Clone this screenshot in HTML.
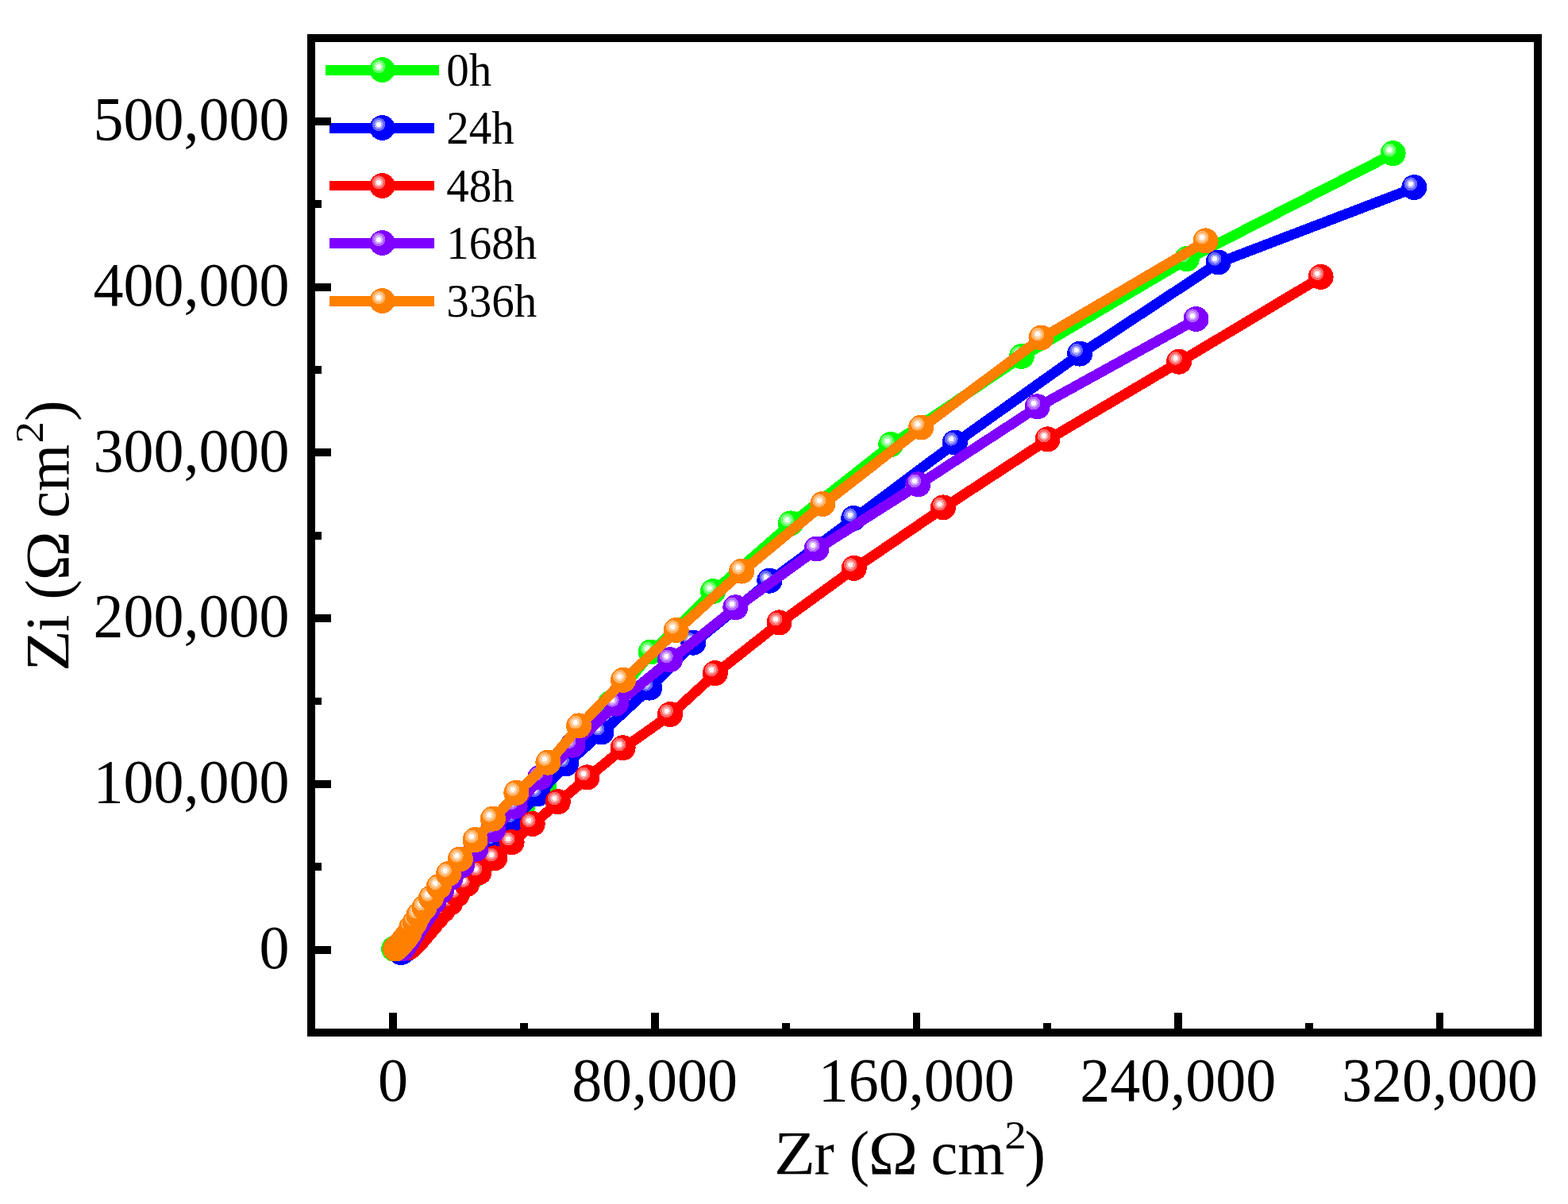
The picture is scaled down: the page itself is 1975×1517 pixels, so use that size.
<!DOCTYPE html>
<html lang="en"><head><meta charset="utf-8"><title>Nyquist plot</title>
<style>
html,body{margin:0;padding:0;background:#fff;}
body{width:1975px;height:1517px;overflow:hidden;}
svg{display:block;}
text{font-family:'Liberation Serif', 'DejaVu Serif', serif;fill:#000;}
</style></head><body>
<svg width="1975" height="1517" viewBox="0 0 1975 1517">
<rect x="0" y="0" width="1975" height="1517" fill="#ffffff"/>
<g shape-rendering="crispEdges">
<g>
<polyline fill="none" stroke="#00ff00" stroke-width="13" stroke-linejoin="round" stroke-linecap="butt" points="496.5,1196.0 498.0,1196.0 500.0,1195.8 503.0,1195.3 506.5,1194.3 510.5,1192.7 515.0,1190.3 519.5,1187.0 524.0,1183.0 528.5,1178.0 533.5,1172.0 539.0,1165.5 545.5,1158.0 552.9,1149.9 561.7,1141.0 570.5,1131.2 581.0,1119.5 594.5,1105.5 607.5,1088.5 622.5,1067.7 639.0,1045.1 658.3,1018.5 685.5,990.2 724.8,936.2 769.3,886.5 820.3,822.0 898.6,745.6 996.4,659.9 1122.7,560.5 1287.4,449.4 1495.3,326.7 1755.1,193.7"/>
<circle cx="496.0" cy="1195.5" r="16" fill="#00ff00"/>
<circle cx="491.5" cy="1191.2" r="8.4" fill="#66ff66"/>
<circle cx="491.5" cy="1191.2" r="5.6" fill="#abffab"/>
<circle cx="491.5" cy="1191.2" r="3.1" fill="#ffffff"/>
<circle cx="497.5" cy="1195.5" r="16" fill="#00ff00"/>
<circle cx="493.0" cy="1191.2" r="8.4" fill="#66ff66"/>
<circle cx="493.0" cy="1191.2" r="5.6" fill="#abffab"/>
<circle cx="493.0" cy="1191.2" r="3.1" fill="#ffffff"/>
<circle cx="499.5" cy="1195.3" r="16" fill="#00ff00"/>
<circle cx="495.0" cy="1191.0" r="8.4" fill="#66ff66"/>
<circle cx="495.0" cy="1191.0" r="5.6" fill="#abffab"/>
<circle cx="495.0" cy="1191.0" r="3.1" fill="#ffffff"/>
<circle cx="502.5" cy="1194.8" r="16" fill="#00ff00"/>
<circle cx="498.0" cy="1190.5" r="8.4" fill="#66ff66"/>
<circle cx="498.0" cy="1190.5" r="5.6" fill="#abffab"/>
<circle cx="498.0" cy="1190.5" r="3.1" fill="#ffffff"/>
<circle cx="506.0" cy="1193.8" r="16" fill="#00ff00"/>
<circle cx="501.5" cy="1189.5" r="8.4" fill="#66ff66"/>
<circle cx="501.5" cy="1189.5" r="5.6" fill="#abffab"/>
<circle cx="501.5" cy="1189.5" r="3.1" fill="#ffffff"/>
<circle cx="510.0" cy="1192.2" r="16" fill="#00ff00"/>
<circle cx="505.5" cy="1187.9" r="8.4" fill="#66ff66"/>
<circle cx="505.5" cy="1187.9" r="5.6" fill="#abffab"/>
<circle cx="505.5" cy="1187.9" r="3.1" fill="#ffffff"/>
<circle cx="514.5" cy="1189.8" r="16" fill="#00ff00"/>
<circle cx="510.0" cy="1185.5" r="8.4" fill="#66ff66"/>
<circle cx="510.0" cy="1185.5" r="5.6" fill="#abffab"/>
<circle cx="510.0" cy="1185.5" r="3.1" fill="#ffffff"/>
<circle cx="519.0" cy="1186.5" r="16" fill="#00ff00"/>
<circle cx="514.5" cy="1182.2" r="8.4" fill="#66ff66"/>
<circle cx="514.5" cy="1182.2" r="5.6" fill="#abffab"/>
<circle cx="514.5" cy="1182.2" r="3.1" fill="#ffffff"/>
<circle cx="523.5" cy="1182.5" r="16" fill="#00ff00"/>
<circle cx="519.0" cy="1178.2" r="8.4" fill="#66ff66"/>
<circle cx="519.0" cy="1178.2" r="5.6" fill="#abffab"/>
<circle cx="519.0" cy="1178.2" r="3.1" fill="#ffffff"/>
<circle cx="528.0" cy="1177.5" r="16" fill="#00ff00"/>
<circle cx="523.5" cy="1173.2" r="8.4" fill="#66ff66"/>
<circle cx="523.5" cy="1173.2" r="5.6" fill="#abffab"/>
<circle cx="523.5" cy="1173.2" r="3.1" fill="#ffffff"/>
<circle cx="533.0" cy="1171.5" r="16" fill="#00ff00"/>
<circle cx="528.5" cy="1167.2" r="8.4" fill="#66ff66"/>
<circle cx="528.5" cy="1167.2" r="5.6" fill="#abffab"/>
<circle cx="528.5" cy="1167.2" r="3.1" fill="#ffffff"/>
<circle cx="538.5" cy="1165.0" r="16" fill="#00ff00"/>
<circle cx="534.0" cy="1160.7" r="8.4" fill="#66ff66"/>
<circle cx="534.0" cy="1160.7" r="5.6" fill="#abffab"/>
<circle cx="534.0" cy="1160.7" r="3.1" fill="#ffffff"/>
<circle cx="545.0" cy="1157.5" r="16" fill="#00ff00"/>
<circle cx="540.5" cy="1153.2" r="8.4" fill="#66ff66"/>
<circle cx="540.5" cy="1153.2" r="5.6" fill="#abffab"/>
<circle cx="540.5" cy="1153.2" r="3.1" fill="#ffffff"/>
<circle cx="552.4" cy="1149.4" r="16" fill="#00ff00"/>
<circle cx="547.9" cy="1145.1" r="8.4" fill="#66ff66"/>
<circle cx="547.9" cy="1145.1" r="5.6" fill="#abffab"/>
<circle cx="547.9" cy="1145.1" r="3.1" fill="#ffffff"/>
<circle cx="561.2" cy="1140.5" r="16" fill="#00ff00"/>
<circle cx="556.7" cy="1136.2" r="8.4" fill="#66ff66"/>
<circle cx="556.7" cy="1136.2" r="5.6" fill="#abffab"/>
<circle cx="556.7" cy="1136.2" r="3.1" fill="#ffffff"/>
<circle cx="570.0" cy="1130.7" r="16" fill="#00ff00"/>
<circle cx="565.5" cy="1126.4" r="8.4" fill="#66ff66"/>
<circle cx="565.5" cy="1126.4" r="5.6" fill="#abffab"/>
<circle cx="565.5" cy="1126.4" r="3.1" fill="#ffffff"/>
<circle cx="580.5" cy="1119.0" r="16" fill="#00ff00"/>
<circle cx="576.0" cy="1114.7" r="8.4" fill="#66ff66"/>
<circle cx="576.0" cy="1114.7" r="5.6" fill="#abffab"/>
<circle cx="576.0" cy="1114.7" r="3.1" fill="#ffffff"/>
<circle cx="594.0" cy="1105.0" r="16" fill="#00ff00"/>
<circle cx="589.5" cy="1100.7" r="8.4" fill="#66ff66"/>
<circle cx="589.5" cy="1100.7" r="5.6" fill="#abffab"/>
<circle cx="589.5" cy="1100.7" r="3.1" fill="#ffffff"/>
<circle cx="607.0" cy="1088.0" r="16" fill="#00ff00"/>
<circle cx="602.5" cy="1083.7" r="8.4" fill="#66ff66"/>
<circle cx="602.5" cy="1083.7" r="5.6" fill="#abffab"/>
<circle cx="602.5" cy="1083.7" r="3.1" fill="#ffffff"/>
<circle cx="622.0" cy="1067.2" r="16" fill="#00ff00"/>
<circle cx="617.5" cy="1062.9" r="8.4" fill="#66ff66"/>
<circle cx="617.5" cy="1062.9" r="5.6" fill="#abffab"/>
<circle cx="617.5" cy="1062.9" r="3.1" fill="#ffffff"/>
<circle cx="638.5" cy="1044.6" r="16" fill="#00ff00"/>
<circle cx="634.0" cy="1040.3" r="8.4" fill="#66ff66"/>
<circle cx="634.0" cy="1040.3" r="5.6" fill="#abffab"/>
<circle cx="634.0" cy="1040.3" r="3.1" fill="#ffffff"/>
<circle cx="657.8" cy="1018.0" r="16" fill="#00ff00"/>
<circle cx="653.3" cy="1013.7" r="8.4" fill="#66ff66"/>
<circle cx="653.3" cy="1013.7" r="5.6" fill="#abffab"/>
<circle cx="653.3" cy="1013.7" r="3.1" fill="#ffffff"/>
<circle cx="685.0" cy="989.7" r="16" fill="#00ff00"/>
<circle cx="680.5" cy="985.4" r="8.4" fill="#66ff66"/>
<circle cx="680.5" cy="985.4" r="5.6" fill="#abffab"/>
<circle cx="680.5" cy="985.4" r="3.1" fill="#ffffff"/>
<circle cx="724.3" cy="935.7" r="16" fill="#00ff00"/>
<circle cx="719.8" cy="931.4" r="8.4" fill="#66ff66"/>
<circle cx="719.8" cy="931.4" r="5.6" fill="#abffab"/>
<circle cx="719.8" cy="931.4" r="3.1" fill="#ffffff"/>
<circle cx="768.8" cy="886.0" r="16" fill="#00ff00"/>
<circle cx="764.3" cy="881.7" r="8.4" fill="#66ff66"/>
<circle cx="764.3" cy="881.7" r="5.6" fill="#abffab"/>
<circle cx="764.3" cy="881.7" r="3.1" fill="#ffffff"/>
<circle cx="819.8" cy="821.5" r="16" fill="#00ff00"/>
<circle cx="815.3" cy="817.2" r="8.4" fill="#66ff66"/>
<circle cx="815.3" cy="817.2" r="5.6" fill="#abffab"/>
<circle cx="815.3" cy="817.2" r="3.1" fill="#ffffff"/>
<circle cx="898.1" cy="745.1" r="16" fill="#00ff00"/>
<circle cx="893.6" cy="740.8" r="8.4" fill="#66ff66"/>
<circle cx="893.6" cy="740.8" r="5.6" fill="#abffab"/>
<circle cx="893.6" cy="740.8" r="3.1" fill="#ffffff"/>
<circle cx="995.9" cy="659.4" r="16" fill="#00ff00"/>
<circle cx="991.4" cy="655.1" r="8.4" fill="#66ff66"/>
<circle cx="991.4" cy="655.1" r="5.6" fill="#abffab"/>
<circle cx="991.4" cy="655.1" r="3.1" fill="#ffffff"/>
<circle cx="1122.2" cy="560.0" r="16" fill="#00ff00"/>
<circle cx="1117.7" cy="555.7" r="8.4" fill="#66ff66"/>
<circle cx="1117.7" cy="555.7" r="5.6" fill="#abffab"/>
<circle cx="1117.7" cy="555.7" r="3.1" fill="#ffffff"/>
<circle cx="1286.9" cy="448.9" r="16" fill="#00ff00"/>
<circle cx="1282.4" cy="444.6" r="8.4" fill="#66ff66"/>
<circle cx="1282.4" cy="444.6" r="5.6" fill="#abffab"/>
<circle cx="1282.4" cy="444.6" r="3.1" fill="#ffffff"/>
<circle cx="1494.8" cy="326.2" r="16" fill="#00ff00"/>
<circle cx="1490.3" cy="321.9" r="8.4" fill="#66ff66"/>
<circle cx="1490.3" cy="321.9" r="5.6" fill="#abffab"/>
<circle cx="1490.3" cy="321.9" r="3.1" fill="#ffffff"/>
<circle cx="1754.6" cy="193.2" r="16" fill="#00ff00"/>
<circle cx="1750.1" cy="188.9" r="8.4" fill="#66ff66"/>
<circle cx="1750.1" cy="188.9" r="5.6" fill="#abffab"/>
<circle cx="1750.1" cy="188.9" r="3.1" fill="#ffffff"/>
</g>
<g>
<polyline fill="none" stroke="#0000ff" stroke-width="13" stroke-linejoin="round" stroke-linecap="butt" points="505.5,1200.5 506.5,1200.1 507.9,1199.3 509.5,1198.1 511.2,1196.3 513.3,1193.9 515.7,1190.9 518.5,1187.2 521.7,1182.7 525.5,1177.5 530.0,1171.5 535.0,1164.5 540.5,1157.0 547.0,1148.0 554.5,1138.0 563.5,1126.5 574.0,1113.5 586.5,1098.5 602.0,1081.0 621.5,1059.5 646.5,1032.5 678.2,1000.6 713.5,962.7 758.0,923.0 818.8,867.1 873.8,810.2 969.8,732.2 1075.7,653.5 1203.3,558.1 1360.6,446.1 1535.1,331.0 1781.8,236.6"/>
<circle cx="505.0" cy="1200.0" r="16" fill="#0000ff"/>
<circle cx="500.5" cy="1195.7" r="8.4" fill="#6666ff"/>
<circle cx="500.5" cy="1195.7" r="5.6" fill="#ababff"/>
<circle cx="500.5" cy="1195.7" r="3.1" fill="#ffffff"/>
<circle cx="506.0" cy="1199.6" r="16" fill="#0000ff"/>
<circle cx="501.5" cy="1195.3" r="8.4" fill="#6666ff"/>
<circle cx="501.5" cy="1195.3" r="5.6" fill="#ababff"/>
<circle cx="501.5" cy="1195.3" r="3.1" fill="#ffffff"/>
<circle cx="507.4" cy="1198.8" r="16" fill="#0000ff"/>
<circle cx="502.9" cy="1194.5" r="8.4" fill="#6666ff"/>
<circle cx="502.9" cy="1194.5" r="5.6" fill="#ababff"/>
<circle cx="502.9" cy="1194.5" r="3.1" fill="#ffffff"/>
<circle cx="509.0" cy="1197.6" r="16" fill="#0000ff"/>
<circle cx="504.5" cy="1193.3" r="8.4" fill="#6666ff"/>
<circle cx="504.5" cy="1193.3" r="5.6" fill="#ababff"/>
<circle cx="504.5" cy="1193.3" r="3.1" fill="#ffffff"/>
<circle cx="510.7" cy="1195.8" r="16" fill="#0000ff"/>
<circle cx="506.2" cy="1191.5" r="8.4" fill="#6666ff"/>
<circle cx="506.2" cy="1191.5" r="5.6" fill="#ababff"/>
<circle cx="506.2" cy="1191.5" r="3.1" fill="#ffffff"/>
<circle cx="512.8" cy="1193.4" r="16" fill="#0000ff"/>
<circle cx="508.3" cy="1189.1" r="8.4" fill="#6666ff"/>
<circle cx="508.3" cy="1189.1" r="5.6" fill="#ababff"/>
<circle cx="508.3" cy="1189.1" r="3.1" fill="#ffffff"/>
<circle cx="515.2" cy="1190.4" r="16" fill="#0000ff"/>
<circle cx="510.7" cy="1186.1" r="8.4" fill="#6666ff"/>
<circle cx="510.7" cy="1186.1" r="5.6" fill="#ababff"/>
<circle cx="510.7" cy="1186.1" r="3.1" fill="#ffffff"/>
<circle cx="518.0" cy="1186.7" r="16" fill="#0000ff"/>
<circle cx="513.5" cy="1182.4" r="8.4" fill="#6666ff"/>
<circle cx="513.5" cy="1182.4" r="5.6" fill="#ababff"/>
<circle cx="513.5" cy="1182.4" r="3.1" fill="#ffffff"/>
<circle cx="521.2" cy="1182.2" r="16" fill="#0000ff"/>
<circle cx="516.7" cy="1177.9" r="8.4" fill="#6666ff"/>
<circle cx="516.7" cy="1177.9" r="5.6" fill="#ababff"/>
<circle cx="516.7" cy="1177.9" r="3.1" fill="#ffffff"/>
<circle cx="525.0" cy="1177.0" r="16" fill="#0000ff"/>
<circle cx="520.5" cy="1172.7" r="8.4" fill="#6666ff"/>
<circle cx="520.5" cy="1172.7" r="5.6" fill="#ababff"/>
<circle cx="520.5" cy="1172.7" r="3.1" fill="#ffffff"/>
<circle cx="529.5" cy="1171.0" r="16" fill="#0000ff"/>
<circle cx="525.0" cy="1166.7" r="8.4" fill="#6666ff"/>
<circle cx="525.0" cy="1166.7" r="5.6" fill="#ababff"/>
<circle cx="525.0" cy="1166.7" r="3.1" fill="#ffffff"/>
<circle cx="534.5" cy="1164.0" r="16" fill="#0000ff"/>
<circle cx="530.0" cy="1159.7" r="8.4" fill="#6666ff"/>
<circle cx="530.0" cy="1159.7" r="5.6" fill="#ababff"/>
<circle cx="530.0" cy="1159.7" r="3.1" fill="#ffffff"/>
<circle cx="540.0" cy="1156.5" r="16" fill="#0000ff"/>
<circle cx="535.5" cy="1152.2" r="8.4" fill="#6666ff"/>
<circle cx="535.5" cy="1152.2" r="5.6" fill="#ababff"/>
<circle cx="535.5" cy="1152.2" r="3.1" fill="#ffffff"/>
<circle cx="546.5" cy="1147.5" r="16" fill="#0000ff"/>
<circle cx="542.0" cy="1143.2" r="8.4" fill="#6666ff"/>
<circle cx="542.0" cy="1143.2" r="5.6" fill="#ababff"/>
<circle cx="542.0" cy="1143.2" r="3.1" fill="#ffffff"/>
<circle cx="554.0" cy="1137.5" r="16" fill="#0000ff"/>
<circle cx="549.5" cy="1133.2" r="8.4" fill="#6666ff"/>
<circle cx="549.5" cy="1133.2" r="5.6" fill="#ababff"/>
<circle cx="549.5" cy="1133.2" r="3.1" fill="#ffffff"/>
<circle cx="563.0" cy="1126.0" r="16" fill="#0000ff"/>
<circle cx="558.5" cy="1121.7" r="8.4" fill="#6666ff"/>
<circle cx="558.5" cy="1121.7" r="5.6" fill="#ababff"/>
<circle cx="558.5" cy="1121.7" r="3.1" fill="#ffffff"/>
<circle cx="573.5" cy="1113.0" r="16" fill="#0000ff"/>
<circle cx="569.0" cy="1108.7" r="8.4" fill="#6666ff"/>
<circle cx="569.0" cy="1108.7" r="5.6" fill="#ababff"/>
<circle cx="569.0" cy="1108.7" r="3.1" fill="#ffffff"/>
<circle cx="586.0" cy="1098.0" r="16" fill="#0000ff"/>
<circle cx="581.5" cy="1093.7" r="8.4" fill="#6666ff"/>
<circle cx="581.5" cy="1093.7" r="5.6" fill="#ababff"/>
<circle cx="581.5" cy="1093.7" r="3.1" fill="#ffffff"/>
<circle cx="601.5" cy="1080.5" r="16" fill="#0000ff"/>
<circle cx="597.0" cy="1076.2" r="8.4" fill="#6666ff"/>
<circle cx="597.0" cy="1076.2" r="5.6" fill="#ababff"/>
<circle cx="597.0" cy="1076.2" r="3.1" fill="#ffffff"/>
<circle cx="621.0" cy="1059.0" r="16" fill="#0000ff"/>
<circle cx="616.5" cy="1054.7" r="8.4" fill="#6666ff"/>
<circle cx="616.5" cy="1054.7" r="5.6" fill="#ababff"/>
<circle cx="616.5" cy="1054.7" r="3.1" fill="#ffffff"/>
<circle cx="646.0" cy="1032.0" r="16" fill="#0000ff"/>
<circle cx="641.5" cy="1027.7" r="8.4" fill="#6666ff"/>
<circle cx="641.5" cy="1027.7" r="5.6" fill="#ababff"/>
<circle cx="641.5" cy="1027.7" r="3.1" fill="#ffffff"/>
<circle cx="677.7" cy="1000.1" r="16" fill="#0000ff"/>
<circle cx="673.2" cy="995.8" r="8.4" fill="#6666ff"/>
<circle cx="673.2" cy="995.8" r="5.6" fill="#ababff"/>
<circle cx="673.2" cy="995.8" r="3.1" fill="#ffffff"/>
<circle cx="713.0" cy="962.2" r="16" fill="#0000ff"/>
<circle cx="708.5" cy="957.9" r="8.4" fill="#6666ff"/>
<circle cx="708.5" cy="957.9" r="5.6" fill="#ababff"/>
<circle cx="708.5" cy="957.9" r="3.1" fill="#ffffff"/>
<circle cx="757.5" cy="922.5" r="16" fill="#0000ff"/>
<circle cx="753.0" cy="918.2" r="8.4" fill="#6666ff"/>
<circle cx="753.0" cy="918.2" r="5.6" fill="#ababff"/>
<circle cx="753.0" cy="918.2" r="3.1" fill="#ffffff"/>
<circle cx="818.3" cy="866.6" r="16" fill="#0000ff"/>
<circle cx="813.8" cy="862.3" r="8.4" fill="#6666ff"/>
<circle cx="813.8" cy="862.3" r="5.6" fill="#ababff"/>
<circle cx="813.8" cy="862.3" r="3.1" fill="#ffffff"/>
<circle cx="873.3" cy="809.7" r="16" fill="#0000ff"/>
<circle cx="868.8" cy="805.4" r="8.4" fill="#6666ff"/>
<circle cx="868.8" cy="805.4" r="5.6" fill="#ababff"/>
<circle cx="868.8" cy="805.4" r="3.1" fill="#ffffff"/>
<circle cx="969.3" cy="731.7" r="16" fill="#0000ff"/>
<circle cx="964.8" cy="727.4" r="8.4" fill="#6666ff"/>
<circle cx="964.8" cy="727.4" r="5.6" fill="#ababff"/>
<circle cx="964.8" cy="727.4" r="3.1" fill="#ffffff"/>
<circle cx="1075.2" cy="653.0" r="16" fill="#0000ff"/>
<circle cx="1070.7" cy="648.7" r="8.4" fill="#6666ff"/>
<circle cx="1070.7" cy="648.7" r="5.6" fill="#ababff"/>
<circle cx="1070.7" cy="648.7" r="3.1" fill="#ffffff"/>
<circle cx="1202.8" cy="557.6" r="16" fill="#0000ff"/>
<circle cx="1198.3" cy="553.3" r="8.4" fill="#6666ff"/>
<circle cx="1198.3" cy="553.3" r="5.6" fill="#ababff"/>
<circle cx="1198.3" cy="553.3" r="3.1" fill="#ffffff"/>
<circle cx="1360.1" cy="445.6" r="16" fill="#0000ff"/>
<circle cx="1355.6" cy="441.3" r="8.4" fill="#6666ff"/>
<circle cx="1355.6" cy="441.3" r="5.6" fill="#ababff"/>
<circle cx="1355.6" cy="441.3" r="3.1" fill="#ffffff"/>
<circle cx="1534.6" cy="330.5" r="16" fill="#0000ff"/>
<circle cx="1530.1" cy="326.2" r="8.4" fill="#6666ff"/>
<circle cx="1530.1" cy="326.2" r="5.6" fill="#ababff"/>
<circle cx="1530.1" cy="326.2" r="3.1" fill="#ffffff"/>
<circle cx="1781.3" cy="236.1" r="16" fill="#0000ff"/>
<circle cx="1776.8" cy="231.8" r="8.4" fill="#6666ff"/>
<circle cx="1776.8" cy="231.8" r="5.6" fill="#ababff"/>
<circle cx="1776.8" cy="231.8" r="3.1" fill="#ffffff"/>
</g>
<g>
<polyline fill="none" stroke="#ff0000" stroke-width="13" stroke-linejoin="round" stroke-linecap="butt" points="514.5,1194.5 515.8,1193.9 517.7,1192.5 520.1,1190.3 523.2,1187.0 527.0,1182.7 531.5,1177.4 536.8,1171.1 543.0,1163.9 550.2,1155.8 558.6,1147.0 567.8,1138.0 576.3,1127.5 588.6,1114.4 603.9,1099.7 623.7,1081.8 645.1,1061.7 671.2,1038.5 703.4,1010.7 740.0,979.9 785.1,942.8 844.6,900.6 901.3,848.7 982.0,784.9 1076.2,716.4 1188.5,639.9 1320.0,553.9 1485.5,456.2 1664.1,349.4"/>
<circle cx="514.0" cy="1194.0" r="16" fill="#ff0000"/>
<circle cx="509.5" cy="1189.7" r="8.4" fill="#ff6666"/>
<circle cx="509.5" cy="1189.7" r="5.6" fill="#ffabab"/>
<circle cx="509.5" cy="1189.7" r="3.1" fill="#ffffff"/>
<circle cx="515.3" cy="1193.4" r="16" fill="#ff0000"/>
<circle cx="510.8" cy="1189.1" r="8.4" fill="#ff6666"/>
<circle cx="510.8" cy="1189.1" r="5.6" fill="#ffabab"/>
<circle cx="510.8" cy="1189.1" r="3.1" fill="#ffffff"/>
<circle cx="517.2" cy="1192.0" r="16" fill="#ff0000"/>
<circle cx="512.7" cy="1187.7" r="8.4" fill="#ff6666"/>
<circle cx="512.7" cy="1187.7" r="5.6" fill="#ffabab"/>
<circle cx="512.7" cy="1187.7" r="3.1" fill="#ffffff"/>
<circle cx="519.6" cy="1189.8" r="16" fill="#ff0000"/>
<circle cx="515.1" cy="1185.5" r="8.4" fill="#ff6666"/>
<circle cx="515.1" cy="1185.5" r="5.6" fill="#ffabab"/>
<circle cx="515.1" cy="1185.5" r="3.1" fill="#ffffff"/>
<circle cx="522.7" cy="1186.5" r="16" fill="#ff0000"/>
<circle cx="518.2" cy="1182.2" r="8.4" fill="#ff6666"/>
<circle cx="518.2" cy="1182.2" r="5.6" fill="#ffabab"/>
<circle cx="518.2" cy="1182.2" r="3.1" fill="#ffffff"/>
<circle cx="526.5" cy="1182.2" r="16" fill="#ff0000"/>
<circle cx="522.0" cy="1177.9" r="8.4" fill="#ff6666"/>
<circle cx="522.0" cy="1177.9" r="5.6" fill="#ffabab"/>
<circle cx="522.0" cy="1177.9" r="3.1" fill="#ffffff"/>
<circle cx="531.0" cy="1176.9" r="16" fill="#ff0000"/>
<circle cx="526.5" cy="1172.6" r="8.4" fill="#ff6666"/>
<circle cx="526.5" cy="1172.6" r="5.6" fill="#ffabab"/>
<circle cx="526.5" cy="1172.6" r="3.1" fill="#ffffff"/>
<circle cx="536.3" cy="1170.6" r="16" fill="#ff0000"/>
<circle cx="531.8" cy="1166.3" r="8.4" fill="#ff6666"/>
<circle cx="531.8" cy="1166.3" r="5.6" fill="#ffabab"/>
<circle cx="531.8" cy="1166.3" r="3.1" fill="#ffffff"/>
<circle cx="542.5" cy="1163.4" r="16" fill="#ff0000"/>
<circle cx="538.0" cy="1159.1" r="8.4" fill="#ff6666"/>
<circle cx="538.0" cy="1159.1" r="5.6" fill="#ffabab"/>
<circle cx="538.0" cy="1159.1" r="3.1" fill="#ffffff"/>
<circle cx="549.7" cy="1155.3" r="16" fill="#ff0000"/>
<circle cx="545.2" cy="1151.0" r="8.4" fill="#ff6666"/>
<circle cx="545.2" cy="1151.0" r="5.6" fill="#ffabab"/>
<circle cx="545.2" cy="1151.0" r="3.1" fill="#ffffff"/>
<circle cx="558.1" cy="1146.5" r="16" fill="#ff0000"/>
<circle cx="553.6" cy="1142.2" r="8.4" fill="#ff6666"/>
<circle cx="553.6" cy="1142.2" r="5.6" fill="#ffabab"/>
<circle cx="553.6" cy="1142.2" r="3.1" fill="#ffffff"/>
<circle cx="567.3" cy="1137.5" r="16" fill="#ff0000"/>
<circle cx="562.8" cy="1133.2" r="8.4" fill="#ff6666"/>
<circle cx="562.8" cy="1133.2" r="5.6" fill="#ffabab"/>
<circle cx="562.8" cy="1133.2" r="3.1" fill="#ffffff"/>
<circle cx="575.8" cy="1127.0" r="16" fill="#ff0000"/>
<circle cx="571.3" cy="1122.7" r="8.4" fill="#ff6666"/>
<circle cx="571.3" cy="1122.7" r="5.6" fill="#ffabab"/>
<circle cx="571.3" cy="1122.7" r="3.1" fill="#ffffff"/>
<circle cx="588.1" cy="1113.9" r="16" fill="#ff0000"/>
<circle cx="583.6" cy="1109.6" r="8.4" fill="#ff6666"/>
<circle cx="583.6" cy="1109.6" r="5.6" fill="#ffabab"/>
<circle cx="583.6" cy="1109.6" r="3.1" fill="#ffffff"/>
<circle cx="603.4" cy="1099.2" r="16" fill="#ff0000"/>
<circle cx="598.9" cy="1094.9" r="8.4" fill="#ff6666"/>
<circle cx="598.9" cy="1094.9" r="5.6" fill="#ffabab"/>
<circle cx="598.9" cy="1094.9" r="3.1" fill="#ffffff"/>
<circle cx="623.2" cy="1081.3" r="16" fill="#ff0000"/>
<circle cx="618.7" cy="1077.0" r="8.4" fill="#ff6666"/>
<circle cx="618.7" cy="1077.0" r="5.6" fill="#ffabab"/>
<circle cx="618.7" cy="1077.0" r="3.1" fill="#ffffff"/>
<circle cx="644.6" cy="1061.2" r="16" fill="#ff0000"/>
<circle cx="640.1" cy="1056.9" r="8.4" fill="#ff6666"/>
<circle cx="640.1" cy="1056.9" r="5.6" fill="#ffabab"/>
<circle cx="640.1" cy="1056.9" r="3.1" fill="#ffffff"/>
<circle cx="670.7" cy="1038.0" r="16" fill="#ff0000"/>
<circle cx="666.2" cy="1033.7" r="8.4" fill="#ff6666"/>
<circle cx="666.2" cy="1033.7" r="5.6" fill="#ffabab"/>
<circle cx="666.2" cy="1033.7" r="3.1" fill="#ffffff"/>
<circle cx="702.9" cy="1010.2" r="16" fill="#ff0000"/>
<circle cx="698.4" cy="1005.9" r="8.4" fill="#ff6666"/>
<circle cx="698.4" cy="1005.9" r="5.6" fill="#ffabab"/>
<circle cx="698.4" cy="1005.9" r="3.1" fill="#ffffff"/>
<circle cx="739.5" cy="979.4" r="16" fill="#ff0000"/>
<circle cx="735.0" cy="975.1" r="8.4" fill="#ff6666"/>
<circle cx="735.0" cy="975.1" r="5.6" fill="#ffabab"/>
<circle cx="735.0" cy="975.1" r="3.1" fill="#ffffff"/>
<circle cx="784.6" cy="942.3" r="16" fill="#ff0000"/>
<circle cx="780.1" cy="938.0" r="8.4" fill="#ff6666"/>
<circle cx="780.1" cy="938.0" r="5.6" fill="#ffabab"/>
<circle cx="780.1" cy="938.0" r="3.1" fill="#ffffff"/>
<circle cx="844.1" cy="900.1" r="16" fill="#ff0000"/>
<circle cx="839.6" cy="895.8" r="8.4" fill="#ff6666"/>
<circle cx="839.6" cy="895.8" r="5.6" fill="#ffabab"/>
<circle cx="839.6" cy="895.8" r="3.1" fill="#ffffff"/>
<circle cx="900.8" cy="848.2" r="16" fill="#ff0000"/>
<circle cx="896.3" cy="843.9" r="8.4" fill="#ff6666"/>
<circle cx="896.3" cy="843.9" r="5.6" fill="#ffabab"/>
<circle cx="896.3" cy="843.9" r="3.1" fill="#ffffff"/>
<circle cx="981.5" cy="784.4" r="16" fill="#ff0000"/>
<circle cx="977.0" cy="780.1" r="8.4" fill="#ff6666"/>
<circle cx="977.0" cy="780.1" r="5.6" fill="#ffabab"/>
<circle cx="977.0" cy="780.1" r="3.1" fill="#ffffff"/>
<circle cx="1075.7" cy="715.9" r="16" fill="#ff0000"/>
<circle cx="1071.2" cy="711.6" r="8.4" fill="#ff6666"/>
<circle cx="1071.2" cy="711.6" r="5.6" fill="#ffabab"/>
<circle cx="1071.2" cy="711.6" r="3.1" fill="#ffffff"/>
<circle cx="1188.0" cy="639.4" r="16" fill="#ff0000"/>
<circle cx="1183.5" cy="635.1" r="8.4" fill="#ff6666"/>
<circle cx="1183.5" cy="635.1" r="5.6" fill="#ffabab"/>
<circle cx="1183.5" cy="635.1" r="3.1" fill="#ffffff"/>
<circle cx="1319.5" cy="553.4" r="16" fill="#ff0000"/>
<circle cx="1315.0" cy="549.1" r="8.4" fill="#ff6666"/>
<circle cx="1315.0" cy="549.1" r="5.6" fill="#ffabab"/>
<circle cx="1315.0" cy="549.1" r="3.1" fill="#ffffff"/>
<circle cx="1485.0" cy="455.7" r="16" fill="#ff0000"/>
<circle cx="1480.5" cy="451.4" r="8.4" fill="#ff6666"/>
<circle cx="1480.5" cy="451.4" r="5.6" fill="#ffabab"/>
<circle cx="1480.5" cy="451.4" r="3.1" fill="#ffffff"/>
<circle cx="1663.6" cy="348.9" r="16" fill="#ff0000"/>
<circle cx="1659.1" cy="344.6" r="8.4" fill="#ff6666"/>
<circle cx="1659.1" cy="344.6" r="5.6" fill="#ffabab"/>
<circle cx="1659.1" cy="344.6" r="3.1" fill="#ffffff"/>
</g>
<g>
<polyline fill="none" stroke="#8000ff" stroke-width="13" stroke-linejoin="round" stroke-linecap="butt" points="506.8,1196.0 507.5,1195.2 508.5,1194.0 509.5,1192.5 510.8,1190.5 512.5,1187.8 514.5,1184.5 517.0,1180.5 520.0,1175.8 523.5,1170.0 527.8,1163.3 533.0,1155.5 539.3,1146.5 547.0,1136.0 556.4,1123.2 568.2,1106.6 582.5,1090.7 599.9,1070.2 621.6,1046.0 649.1,1016.5 680.8,980.1 721.8,939.3 776.3,887.1 844.4,831.7 926.9,765.8 1029.0,692.0 1156.9,610.8 1307.1,512.8 1507.0,402.5"/>
<circle cx="506.3" cy="1195.5" r="16" fill="#8000ff"/>
<circle cx="501.8" cy="1191.2" r="8.4" fill="#b366ff"/>
<circle cx="501.8" cy="1191.2" r="5.6" fill="#d5abff"/>
<circle cx="501.8" cy="1191.2" r="3.1" fill="#ffffff"/>
<circle cx="507.0" cy="1194.7" r="16" fill="#8000ff"/>
<circle cx="502.5" cy="1190.4" r="8.4" fill="#b366ff"/>
<circle cx="502.5" cy="1190.4" r="5.6" fill="#d5abff"/>
<circle cx="502.5" cy="1190.4" r="3.1" fill="#ffffff"/>
<circle cx="508.0" cy="1193.5" r="16" fill="#8000ff"/>
<circle cx="503.5" cy="1189.2" r="8.4" fill="#b366ff"/>
<circle cx="503.5" cy="1189.2" r="5.6" fill="#d5abff"/>
<circle cx="503.5" cy="1189.2" r="3.1" fill="#ffffff"/>
<circle cx="509.0" cy="1192.0" r="16" fill="#8000ff"/>
<circle cx="504.5" cy="1187.7" r="8.4" fill="#b366ff"/>
<circle cx="504.5" cy="1187.7" r="5.6" fill="#d5abff"/>
<circle cx="504.5" cy="1187.7" r="3.1" fill="#ffffff"/>
<circle cx="510.3" cy="1190.0" r="16" fill="#8000ff"/>
<circle cx="505.8" cy="1185.7" r="8.4" fill="#b366ff"/>
<circle cx="505.8" cy="1185.7" r="5.6" fill="#d5abff"/>
<circle cx="505.8" cy="1185.7" r="3.1" fill="#ffffff"/>
<circle cx="512.0" cy="1187.3" r="16" fill="#8000ff"/>
<circle cx="507.5" cy="1183.0" r="8.4" fill="#b366ff"/>
<circle cx="507.5" cy="1183.0" r="5.6" fill="#d5abff"/>
<circle cx="507.5" cy="1183.0" r="3.1" fill="#ffffff"/>
<circle cx="514.0" cy="1184.0" r="16" fill="#8000ff"/>
<circle cx="509.5" cy="1179.7" r="8.4" fill="#b366ff"/>
<circle cx="509.5" cy="1179.7" r="5.6" fill="#d5abff"/>
<circle cx="509.5" cy="1179.7" r="3.1" fill="#ffffff"/>
<circle cx="516.5" cy="1180.0" r="16" fill="#8000ff"/>
<circle cx="512.0" cy="1175.7" r="8.4" fill="#b366ff"/>
<circle cx="512.0" cy="1175.7" r="5.6" fill="#d5abff"/>
<circle cx="512.0" cy="1175.7" r="3.1" fill="#ffffff"/>
<circle cx="519.5" cy="1175.3" r="16" fill="#8000ff"/>
<circle cx="515.0" cy="1171.0" r="8.4" fill="#b366ff"/>
<circle cx="515.0" cy="1171.0" r="5.6" fill="#d5abff"/>
<circle cx="515.0" cy="1171.0" r="3.1" fill="#ffffff"/>
<circle cx="523.0" cy="1169.5" r="16" fill="#8000ff"/>
<circle cx="518.5" cy="1165.2" r="8.4" fill="#b366ff"/>
<circle cx="518.5" cy="1165.2" r="5.6" fill="#d5abff"/>
<circle cx="518.5" cy="1165.2" r="3.1" fill="#ffffff"/>
<circle cx="527.3" cy="1162.8" r="16" fill="#8000ff"/>
<circle cx="522.8" cy="1158.5" r="8.4" fill="#b366ff"/>
<circle cx="522.8" cy="1158.5" r="5.6" fill="#d5abff"/>
<circle cx="522.8" cy="1158.5" r="3.1" fill="#ffffff"/>
<circle cx="532.5" cy="1155.0" r="16" fill="#8000ff"/>
<circle cx="528.0" cy="1150.7" r="8.4" fill="#b366ff"/>
<circle cx="528.0" cy="1150.7" r="5.6" fill="#d5abff"/>
<circle cx="528.0" cy="1150.7" r="3.1" fill="#ffffff"/>
<circle cx="538.8" cy="1146.0" r="16" fill="#8000ff"/>
<circle cx="534.3" cy="1141.7" r="8.4" fill="#b366ff"/>
<circle cx="534.3" cy="1141.7" r="5.6" fill="#d5abff"/>
<circle cx="534.3" cy="1141.7" r="3.1" fill="#ffffff"/>
<circle cx="546.5" cy="1135.5" r="16" fill="#8000ff"/>
<circle cx="542.0" cy="1131.2" r="8.4" fill="#b366ff"/>
<circle cx="542.0" cy="1131.2" r="5.6" fill="#d5abff"/>
<circle cx="542.0" cy="1131.2" r="3.1" fill="#ffffff"/>
<circle cx="555.9" cy="1122.7" r="16" fill="#8000ff"/>
<circle cx="551.4" cy="1118.4" r="8.4" fill="#b366ff"/>
<circle cx="551.4" cy="1118.4" r="5.6" fill="#d5abff"/>
<circle cx="551.4" cy="1118.4" r="3.1" fill="#ffffff"/>
<circle cx="567.7" cy="1106.1" r="16" fill="#8000ff"/>
<circle cx="563.2" cy="1101.8" r="8.4" fill="#b366ff"/>
<circle cx="563.2" cy="1101.8" r="5.6" fill="#d5abff"/>
<circle cx="563.2" cy="1101.8" r="3.1" fill="#ffffff"/>
<circle cx="582.0" cy="1090.2" r="16" fill="#8000ff"/>
<circle cx="577.5" cy="1085.9" r="8.4" fill="#b366ff"/>
<circle cx="577.5" cy="1085.9" r="5.6" fill="#d5abff"/>
<circle cx="577.5" cy="1085.9" r="3.1" fill="#ffffff"/>
<circle cx="599.4" cy="1069.7" r="16" fill="#8000ff"/>
<circle cx="594.9" cy="1065.4" r="8.4" fill="#b366ff"/>
<circle cx="594.9" cy="1065.4" r="5.6" fill="#d5abff"/>
<circle cx="594.9" cy="1065.4" r="3.1" fill="#ffffff"/>
<circle cx="621.1" cy="1045.5" r="16" fill="#8000ff"/>
<circle cx="616.6" cy="1041.2" r="8.4" fill="#b366ff"/>
<circle cx="616.6" cy="1041.2" r="5.6" fill="#d5abff"/>
<circle cx="616.6" cy="1041.2" r="3.1" fill="#ffffff"/>
<circle cx="648.6" cy="1016.0" r="16" fill="#8000ff"/>
<circle cx="644.1" cy="1011.7" r="8.4" fill="#b366ff"/>
<circle cx="644.1" cy="1011.7" r="5.6" fill="#d5abff"/>
<circle cx="644.1" cy="1011.7" r="3.1" fill="#ffffff"/>
<circle cx="680.3" cy="979.6" r="16" fill="#8000ff"/>
<circle cx="675.8" cy="975.3" r="8.4" fill="#b366ff"/>
<circle cx="675.8" cy="975.3" r="5.6" fill="#d5abff"/>
<circle cx="675.8" cy="975.3" r="3.1" fill="#ffffff"/>
<circle cx="721.3" cy="938.8" r="16" fill="#8000ff"/>
<circle cx="716.8" cy="934.5" r="8.4" fill="#b366ff"/>
<circle cx="716.8" cy="934.5" r="5.6" fill="#d5abff"/>
<circle cx="716.8" cy="934.5" r="3.1" fill="#ffffff"/>
<circle cx="775.8" cy="886.6" r="16" fill="#8000ff"/>
<circle cx="771.3" cy="882.3" r="8.4" fill="#b366ff"/>
<circle cx="771.3" cy="882.3" r="5.6" fill="#d5abff"/>
<circle cx="771.3" cy="882.3" r="3.1" fill="#ffffff"/>
<circle cx="843.9" cy="831.2" r="16" fill="#8000ff"/>
<circle cx="839.4" cy="826.9" r="8.4" fill="#b366ff"/>
<circle cx="839.4" cy="826.9" r="5.6" fill="#d5abff"/>
<circle cx="839.4" cy="826.9" r="3.1" fill="#ffffff"/>
<circle cx="926.4" cy="765.3" r="16" fill="#8000ff"/>
<circle cx="921.9" cy="761.0" r="8.4" fill="#b366ff"/>
<circle cx="921.9" cy="761.0" r="5.6" fill="#d5abff"/>
<circle cx="921.9" cy="761.0" r="3.1" fill="#ffffff"/>
<circle cx="1028.5" cy="691.5" r="16" fill="#8000ff"/>
<circle cx="1024.0" cy="687.2" r="8.4" fill="#b366ff"/>
<circle cx="1024.0" cy="687.2" r="5.6" fill="#d5abff"/>
<circle cx="1024.0" cy="687.2" r="3.1" fill="#ffffff"/>
<circle cx="1156.4" cy="610.3" r="16" fill="#8000ff"/>
<circle cx="1151.9" cy="606.0" r="8.4" fill="#b366ff"/>
<circle cx="1151.9" cy="606.0" r="5.6" fill="#d5abff"/>
<circle cx="1151.9" cy="606.0" r="3.1" fill="#ffffff"/>
<circle cx="1306.6" cy="512.3" r="16" fill="#8000ff"/>
<circle cx="1302.1" cy="508.0" r="8.4" fill="#b366ff"/>
<circle cx="1302.1" cy="508.0" r="5.6" fill="#d5abff"/>
<circle cx="1302.1" cy="508.0" r="3.1" fill="#ffffff"/>
<circle cx="1506.5" cy="402.0" r="16" fill="#8000ff"/>
<circle cx="1502.0" cy="397.7" r="8.4" fill="#b366ff"/>
<circle cx="1502.0" cy="397.7" r="5.6" fill="#d5abff"/>
<circle cx="1502.0" cy="397.7" r="3.1" fill="#ffffff"/>
</g>
<g>
<polyline fill="none" stroke="#ff8000" stroke-width="13" stroke-linejoin="round" stroke-linecap="butt" points="498.5,1196.0 499.0,1195.5 500.0,1195.0 501.0,1194.0 502.5,1192.5 504.0,1191.0 506.0,1189.0 508.0,1186.5 510.5,1183.5 513.0,1180.0 516.2,1175.7 518.8,1168.8 523.4,1162.3 527.9,1153.5 535.0,1143.9 543.5,1131.9 553.3,1117.5 565.5,1101.4 580.3,1083.0 599.0,1058.7 621.4,1032.1 650.8,999.4 690.9,961.2 729.7,914.9 785.5,857.3 852.2,794.5 934.7,720.1 1036.8,635.4 1160.7,539.0 1312.0,426.0 1519.1,303.9"/>
<circle cx="498.0" cy="1195.5" r="16" fill="#ff8000"/>
<circle cx="493.5" cy="1191.2" r="8.4" fill="#ffb366"/>
<circle cx="493.5" cy="1191.2" r="5.6" fill="#ffd5ab"/>
<circle cx="493.5" cy="1191.2" r="3.1" fill="#ffffff"/>
<circle cx="498.5" cy="1195.0" r="16" fill="#ff8000"/>
<circle cx="494.0" cy="1190.7" r="8.4" fill="#ffb366"/>
<circle cx="494.0" cy="1190.7" r="5.6" fill="#ffd5ab"/>
<circle cx="494.0" cy="1190.7" r="3.1" fill="#ffffff"/>
<circle cx="499.5" cy="1194.5" r="16" fill="#ff8000"/>
<circle cx="495.0" cy="1190.2" r="8.4" fill="#ffb366"/>
<circle cx="495.0" cy="1190.2" r="5.6" fill="#ffd5ab"/>
<circle cx="495.0" cy="1190.2" r="3.1" fill="#ffffff"/>
<circle cx="500.5" cy="1193.5" r="16" fill="#ff8000"/>
<circle cx="496.0" cy="1189.2" r="8.4" fill="#ffb366"/>
<circle cx="496.0" cy="1189.2" r="5.6" fill="#ffd5ab"/>
<circle cx="496.0" cy="1189.2" r="3.1" fill="#ffffff"/>
<circle cx="502.0" cy="1192.0" r="16" fill="#ff8000"/>
<circle cx="497.5" cy="1187.7" r="8.4" fill="#ffb366"/>
<circle cx="497.5" cy="1187.7" r="5.6" fill="#ffd5ab"/>
<circle cx="497.5" cy="1187.7" r="3.1" fill="#ffffff"/>
<circle cx="503.5" cy="1190.5" r="16" fill="#ff8000"/>
<circle cx="499.0" cy="1186.2" r="8.4" fill="#ffb366"/>
<circle cx="499.0" cy="1186.2" r="5.6" fill="#ffd5ab"/>
<circle cx="499.0" cy="1186.2" r="3.1" fill="#ffffff"/>
<circle cx="505.5" cy="1188.5" r="16" fill="#ff8000"/>
<circle cx="501.0" cy="1184.2" r="8.4" fill="#ffb366"/>
<circle cx="501.0" cy="1184.2" r="5.6" fill="#ffd5ab"/>
<circle cx="501.0" cy="1184.2" r="3.1" fill="#ffffff"/>
<circle cx="507.5" cy="1186.0" r="16" fill="#ff8000"/>
<circle cx="503.0" cy="1181.7" r="8.4" fill="#ffb366"/>
<circle cx="503.0" cy="1181.7" r="5.6" fill="#ffd5ab"/>
<circle cx="503.0" cy="1181.7" r="3.1" fill="#ffffff"/>
<circle cx="510.0" cy="1183.0" r="16" fill="#ff8000"/>
<circle cx="505.5" cy="1178.7" r="8.4" fill="#ffb366"/>
<circle cx="505.5" cy="1178.7" r="5.6" fill="#ffd5ab"/>
<circle cx="505.5" cy="1178.7" r="3.1" fill="#ffffff"/>
<circle cx="512.5" cy="1179.5" r="16" fill="#ff8000"/>
<circle cx="508.0" cy="1175.2" r="8.4" fill="#ffb366"/>
<circle cx="508.0" cy="1175.2" r="5.6" fill="#ffd5ab"/>
<circle cx="508.0" cy="1175.2" r="3.1" fill="#ffffff"/>
<circle cx="515.7" cy="1175.2" r="16" fill="#ff8000"/>
<circle cx="511.2" cy="1170.9" r="8.4" fill="#ffb366"/>
<circle cx="511.2" cy="1170.9" r="5.6" fill="#ffd5ab"/>
<circle cx="511.2" cy="1170.9" r="3.1" fill="#ffffff"/>
<circle cx="518.3" cy="1168.3" r="16" fill="#ff8000"/>
<circle cx="513.8" cy="1164.0" r="8.4" fill="#ffb366"/>
<circle cx="513.8" cy="1164.0" r="5.6" fill="#ffd5ab"/>
<circle cx="513.8" cy="1164.0" r="3.1" fill="#ffffff"/>
<circle cx="522.9" cy="1161.8" r="16" fill="#ff8000"/>
<circle cx="518.4" cy="1157.5" r="8.4" fill="#ffb366"/>
<circle cx="518.4" cy="1157.5" r="5.6" fill="#ffd5ab"/>
<circle cx="518.4" cy="1157.5" r="3.1" fill="#ffffff"/>
<circle cx="527.4" cy="1153.0" r="16" fill="#ff8000"/>
<circle cx="522.9" cy="1148.7" r="8.4" fill="#ffb366"/>
<circle cx="522.9" cy="1148.7" r="5.6" fill="#ffd5ab"/>
<circle cx="522.9" cy="1148.7" r="3.1" fill="#ffffff"/>
<circle cx="534.5" cy="1143.4" r="16" fill="#ff8000"/>
<circle cx="530.0" cy="1139.1" r="8.4" fill="#ffb366"/>
<circle cx="530.0" cy="1139.1" r="5.6" fill="#ffd5ab"/>
<circle cx="530.0" cy="1139.1" r="3.1" fill="#ffffff"/>
<circle cx="543.0" cy="1131.4" r="16" fill="#ff8000"/>
<circle cx="538.5" cy="1127.1" r="8.4" fill="#ffb366"/>
<circle cx="538.5" cy="1127.1" r="5.6" fill="#ffd5ab"/>
<circle cx="538.5" cy="1127.1" r="3.1" fill="#ffffff"/>
<circle cx="552.8" cy="1117.0" r="16" fill="#ff8000"/>
<circle cx="548.3" cy="1112.7" r="8.4" fill="#ffb366"/>
<circle cx="548.3" cy="1112.7" r="5.6" fill="#ffd5ab"/>
<circle cx="548.3" cy="1112.7" r="3.1" fill="#ffffff"/>
<circle cx="565.0" cy="1100.9" r="16" fill="#ff8000"/>
<circle cx="560.5" cy="1096.6" r="8.4" fill="#ffb366"/>
<circle cx="560.5" cy="1096.6" r="5.6" fill="#ffd5ab"/>
<circle cx="560.5" cy="1096.6" r="3.1" fill="#ffffff"/>
<circle cx="579.8" cy="1082.5" r="16" fill="#ff8000"/>
<circle cx="575.3" cy="1078.2" r="8.4" fill="#ffb366"/>
<circle cx="575.3" cy="1078.2" r="5.6" fill="#ffd5ab"/>
<circle cx="575.3" cy="1078.2" r="3.1" fill="#ffffff"/>
<circle cx="598.5" cy="1058.2" r="16" fill="#ff8000"/>
<circle cx="594.0" cy="1053.9" r="8.4" fill="#ffb366"/>
<circle cx="594.0" cy="1053.9" r="5.6" fill="#ffd5ab"/>
<circle cx="594.0" cy="1053.9" r="3.1" fill="#ffffff"/>
<circle cx="620.9" cy="1031.6" r="16" fill="#ff8000"/>
<circle cx="616.4" cy="1027.3" r="8.4" fill="#ffb366"/>
<circle cx="616.4" cy="1027.3" r="5.6" fill="#ffd5ab"/>
<circle cx="616.4" cy="1027.3" r="3.1" fill="#ffffff"/>
<circle cx="650.3" cy="998.9" r="16" fill="#ff8000"/>
<circle cx="645.8" cy="994.6" r="8.4" fill="#ffb366"/>
<circle cx="645.8" cy="994.6" r="5.6" fill="#ffd5ab"/>
<circle cx="645.8" cy="994.6" r="3.1" fill="#ffffff"/>
<circle cx="690.4" cy="960.7" r="16" fill="#ff8000"/>
<circle cx="685.9" cy="956.4" r="8.4" fill="#ffb366"/>
<circle cx="685.9" cy="956.4" r="5.6" fill="#ffd5ab"/>
<circle cx="685.9" cy="956.4" r="3.1" fill="#ffffff"/>
<circle cx="729.2" cy="914.4" r="16" fill="#ff8000"/>
<circle cx="724.7" cy="910.1" r="8.4" fill="#ffb366"/>
<circle cx="724.7" cy="910.1" r="5.6" fill="#ffd5ab"/>
<circle cx="724.7" cy="910.1" r="3.1" fill="#ffffff"/>
<circle cx="785.0" cy="856.8" r="16" fill="#ff8000"/>
<circle cx="780.5" cy="852.5" r="8.4" fill="#ffb366"/>
<circle cx="780.5" cy="852.5" r="5.6" fill="#ffd5ab"/>
<circle cx="780.5" cy="852.5" r="3.1" fill="#ffffff"/>
<circle cx="851.7" cy="794.0" r="16" fill="#ff8000"/>
<circle cx="847.2" cy="789.7" r="8.4" fill="#ffb366"/>
<circle cx="847.2" cy="789.7" r="5.6" fill="#ffd5ab"/>
<circle cx="847.2" cy="789.7" r="3.1" fill="#ffffff"/>
<circle cx="934.2" cy="719.6" r="16" fill="#ff8000"/>
<circle cx="929.7" cy="715.3" r="8.4" fill="#ffb366"/>
<circle cx="929.7" cy="715.3" r="5.6" fill="#ffd5ab"/>
<circle cx="929.7" cy="715.3" r="3.1" fill="#ffffff"/>
<circle cx="1036.3" cy="634.9" r="16" fill="#ff8000"/>
<circle cx="1031.8" cy="630.6" r="8.4" fill="#ffb366"/>
<circle cx="1031.8" cy="630.6" r="5.6" fill="#ffd5ab"/>
<circle cx="1031.8" cy="630.6" r="3.1" fill="#ffffff"/>
<circle cx="1160.2" cy="538.5" r="16" fill="#ff8000"/>
<circle cx="1155.7" cy="534.2" r="8.4" fill="#ffb366"/>
<circle cx="1155.7" cy="534.2" r="5.6" fill="#ffd5ab"/>
<circle cx="1155.7" cy="534.2" r="3.1" fill="#ffffff"/>
<circle cx="1311.5" cy="425.5" r="16" fill="#ff8000"/>
<circle cx="1307.0" cy="421.2" r="8.4" fill="#ffb366"/>
<circle cx="1307.0" cy="421.2" r="5.6" fill="#ffd5ab"/>
<circle cx="1307.0" cy="421.2" r="3.1" fill="#ffffff"/>
<circle cx="1518.6" cy="303.4" r="16" fill="#ff8000"/>
<circle cx="1514.1" cy="299.1" r="8.4" fill="#ffb366"/>
<circle cx="1514.1" cy="299.1" r="5.6" fill="#ffd5ab"/>
<circle cx="1514.1" cy="299.1" r="3.1" fill="#ffffff"/>
</g>
</g>
<g shape-rendering="crispEdges">
<rect x="410" y="82" width="143" height="13" fill="#00ff00"/>
<circle cx="481.5" cy="88.0" r="16" fill="#00ff00"/>
<circle cx="477.0" cy="83.7" r="8.4" fill="#66ff66"/>
<circle cx="477.0" cy="83.7" r="5.6" fill="#abffab"/>
<circle cx="477.0" cy="83.7" r="3.1" fill="#ffffff"/>
<rect x="415" y="155" width="132" height="13" fill="#0000ff"/>
<circle cx="481.5" cy="161.0" r="16" fill="#0000ff"/>
<circle cx="477.0" cy="156.7" r="8.4" fill="#6666ff"/>
<circle cx="477.0" cy="156.7" r="5.6" fill="#ababff"/>
<circle cx="477.0" cy="156.7" r="3.1" fill="#ffffff"/>
<rect x="415" y="228" width="132" height="12" fill="#ff0000"/>
<circle cx="481.5" cy="234.0" r="16" fill="#ff0000"/>
<circle cx="477.0" cy="229.7" r="8.4" fill="#ff6666"/>
<circle cx="477.0" cy="229.7" r="5.6" fill="#ffabab"/>
<circle cx="477.0" cy="229.7" r="3.1" fill="#ffffff"/>
<rect x="415" y="300" width="132" height="13" fill="#8000ff"/>
<circle cx="481.5" cy="306.0" r="16" fill="#8000ff"/>
<circle cx="477.0" cy="301.7" r="8.4" fill="#b366ff"/>
<circle cx="477.0" cy="301.7" r="5.6" fill="#d5abff"/>
<circle cx="477.0" cy="301.7" r="3.1" fill="#ffffff"/>
<rect x="415" y="373" width="132" height="13" fill="#ff8000"/>
<circle cx="481.5" cy="379.0" r="16" fill="#ff8000"/>
<circle cx="477.0" cy="374.7" r="8.4" fill="#ffb366"/>
<circle cx="477.0" cy="374.7" r="5.6" fill="#ffd5ab"/>
<circle cx="477.0" cy="374.7" r="3.1" fill="#ffffff"/>
</g>
<text transform="translate(562.3,107.7) scale(1,1.030)" font-size="57" text-anchor="start">0h</text>
<text transform="translate(562.3,180.7) scale(1,1.030)" font-size="57" text-anchor="start">24h</text>
<text transform="translate(562.3,253.7) scale(1,1.030)" font-size="57" text-anchor="start">48h</text>
<text transform="translate(562.3,325.7) scale(1,1.030)" font-size="57" text-anchor="start">168h</text>
<text transform="translate(562.3,398.7) scale(1,1.030)" font-size="57" text-anchor="start">336h</text>
<g fill="#000" shape-rendering="crispEdges">
<path fill-rule="evenodd" d="M387 43H1942V1306H387Z M397 53V1296H1932V53Z"/>
<rect x="396" y="148" width="21" height="10"/>
<rect x="396" y="357" width="21" height="10"/>
<rect x="396" y="565" width="21" height="10"/>
<rect x="396" y="774" width="21" height="10"/>
<rect x="396" y="983" width="21" height="10"/>
<rect x="396" y="1192" width="21" height="10"/>
<rect x="396" y="252" width="9" height="10"/>
<rect x="396" y="461" width="9" height="10"/>
<rect x="396" y="670" width="9" height="10"/>
<rect x="396" y="879" width="9" height="9"/>
<rect x="396" y="1087" width="9" height="10"/>
<rect x="490" y="1276" width="10" height="21"/>
<rect x="820" y="1276" width="10" height="21"/>
<rect x="1150" y="1276" width="9" height="21"/>
<rect x="1479" y="1276" width="10" height="21"/>
<rect x="1809" y="1276" width="9" height="21"/>
<rect x="655" y="1289" width="10" height="8"/>
<rect x="985" y="1289" width="10" height="8"/>
<rect x="1314" y="1289" width="10" height="8"/>
<rect x="1644" y="1289" width="10" height="8"/>
</g>
<text transform="translate(364.5,1220.0) scale(1,1.030)" font-size="76" text-anchor="end">0</text>
<text transform="translate(364.5,1011.2) scale(1,1.030)" font-size="76" text-anchor="end">100,000</text>
<text transform="translate(364.5,802.4) scale(1,1.030)" font-size="76" text-anchor="end">200,000</text>
<text transform="translate(364.5,593.6) scale(1,1.030)" font-size="76" text-anchor="end">300,000</text>
<text transform="translate(364.5,384.8) scale(1,1.030)" font-size="76" text-anchor="end">400,000</text>
<text transform="translate(364.5,176.0) scale(1,1.030)" font-size="76" text-anchor="end">500,000</text>
<text transform="translate(495.0,1387.0) scale(1,1.030)" font-size="76" text-anchor="middle">0</text>
<text transform="translate(824.6,1387.0) scale(1,1.030)" font-size="76" text-anchor="middle">80,000</text>
<text transform="translate(1154.2,1387.0) scale(1,1.030)" font-size="76" text-anchor="middle">160,000</text>
<text transform="translate(1483.8,1387.0) scale(1,1.030)" font-size="76" text-anchor="middle">240,000</text>
<text transform="translate(1813.4,1387.0) scale(1,1.030)" font-size="76" text-anchor="middle">320,000</text>
<text transform="translate(979.2,1478.5) scale(1,1.030)" font-size="76"><tspan x="-4.1" lengthAdjust="spacingAndGlyphs" textLength="52">Z</tspan><tspan x="46.2">r (</tspan><tspan x="114.6" lengthAdjust="spacingAndGlyphs" textLength="62.5">Ω</tspan><tspan x="174.4"> cm</tspan><tspan x="286.0" dy="-30.6" font-size="50" lengthAdjust="spacingAndGlyphs" textLength="27.5">2</tspan><tspan x="311.3" dy="30.6" lengthAdjust="spacingAndGlyphs" textLength="26.6">)</tspan></text>
<text transform="translate(86,841.9) rotate(-90) scale(1,1.030)" font-size="76"><tspan x="-4.1" lengthAdjust="spacingAndGlyphs" textLength="52">Z</tspan><tspan x="46.2">i (</tspan><tspan x="110.4" lengthAdjust="spacingAndGlyphs" textLength="62.5">Ω</tspan><tspan x="170.2"> cm</tspan><tspan x="283.3" dy="-30.6" font-size="50" lengthAdjust="spacingAndGlyphs" textLength="27.5">2</tspan><tspan x="311.1" dy="30.6" lengthAdjust="spacingAndGlyphs" textLength="26.6">)</tspan></text>
</svg>
</body></html>
